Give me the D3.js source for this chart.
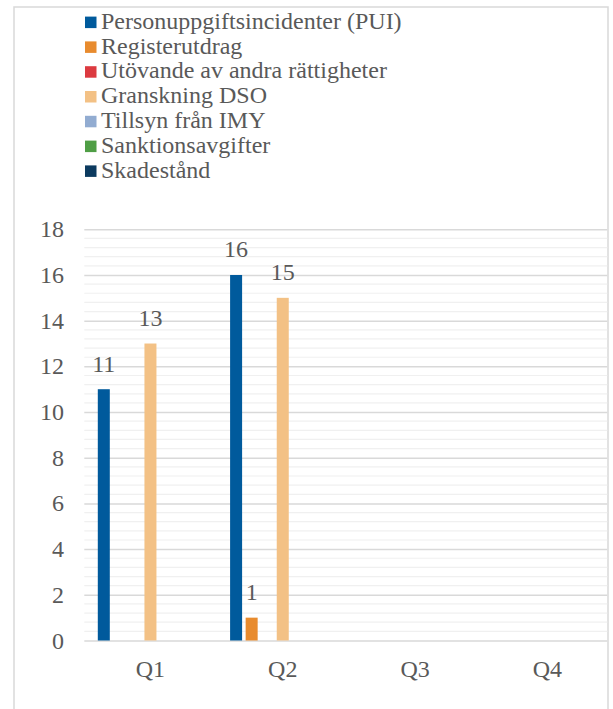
<!DOCTYPE html>
<html><head><meta charset="utf-8">
<script src="https://cdn.jsdelivr.net/npm/d3@7"></script>
<style>
html,body{margin:0;padding:0;background:#fff;}
</style></head>
<body>
<svg id="chart" width="613" height="709"></svg>
<script>
const categories = ["Q1", "Q2", "Q3", "Q4"];
const seriesNames = [
  "Personuppgiftsincidenter (PUI)",
  "Registerutdrag",
  "Utövande av andra rättigheter",
  "Granskning DSO",
  "Tillsyn från IMY",
  "Sanktionsavgifter",
  "Skadestånd"
];
const seriesColors = ["#005a9c", "#e88b2e", "#dc3a40", "#f3c185", "#92acd1", "#4f9e45", "#0c3a5f"];
const valuesPUI = [11, 16, 0, 0];
const valuesRegister = [0, 1, 0, 0];
const valuesUtovande = [0, 0, 0, 0];
const valuesGranskning = [13, 15, 0, 0];
const valuesTillsyn = [0, 0, 0, 0];
const valuesSanktion = [0, 0, 0, 0];
const valuesSkadestand = [0, 0, 0, 0];
const yTicks = [0, 2, 4, 6, 8, 10, 12, 14, 16, 18];

const seriesValues = [valuesPUI, valuesRegister, valuesUtovande, valuesGranskning, valuesTillsyn, valuesSanktion, valuesSkadestand];
const series = seriesNames.map((n, i) => ({name: n, color: seriesColors[i], values: seriesValues[i]}));

const FONT = "Liberation Serif";
const svg = d3.select("#chart");
const textColor = "#595959";
const fontSize = 24;

// Border
svg.append("rect").attr("x", 14).attr("y", 7).attr("width", 594).attr("height", 740)
  .attr("fill", "#fff").attr("stroke", "#d9d9d9").attr("stroke-width", 1.5);

svg.append("clipPath").attr("id", "clip").append("rect")
  .attr("x", 14).attr("y", 7).attr("width", 593.3).attr("height", 740);

const plotLeft = 84.3, step = 132.3;
const x = d3.scaleBand().domain(categories).range([plotLeft, plotLeft + step * categories.length]).padding(0);
const xs = d3.scaleBand().domain(seriesNames).range([0, x.bandwidth()]).paddingInner(0.228).paddingOuter(0.868);
const y = d3.scaleLinear().domain([0, 18]).range([640.5, 229.3]);

const plot = svg.append("g").attr("clip-path", "url(#clip)");

// minor gridlines
const minorTicks = d3.range(0, 18.0001, 0.4).filter(v => Math.abs(v / 2 - Math.round(v / 2)) > 1e-6);
plot.append("g").selectAll("line").data(minorTicks).join("line")
  .attr("x1", plotLeft).attr("x2", plotLeft + step * 4)
  .attr("y1", d => y(d)).attr("y2", d => y(d))
  .attr("stroke", "#f0f0f0").attr("stroke-width", 1.2);

// major gridlines via axis
const yAxis = d3.axisLeft(y).tickValues(yTicks).tickSize(-(step * 4)).tickFormat("");
const yg = plot.append("g").attr("transform", `translate(${plotLeft},0)`).call(yAxis);
yg.select(".domain").remove();
yg.selectAll(".tick line").attr("stroke", "#d9d9d9").attr("stroke-width", 1.5);

function styleText(sel) {
  return sel.style("font-family", FONT).attr("font-size", fontSize).attr("fill", textColor);
}

// y tick labels
styleText(svg.append("g").selectAll("text").data(yTicks).join("text")
  .attr("x", 64).attr("y", d => y(d) + 8)
  .attr("text-anchor", "end"))
  .text(d => d);

// bars
const groups = plot.selectAll("g.cat").data(categories).join("g").attr("class", "cat")
  .attr("transform", d => `translate(${x(d)},0)`);
groups.each(function(cat, ci) {
  const g = d3.select(this);
  const items = series.map(s => ({name: s.name, color: s.color, v: s.values[ci]})).filter(d => d.v > 0);
  g.selectAll("rect").data(items).join("rect")
    .attr("x", d => xs(d.name)).attr("width", xs.bandwidth())
    .attr("y", d => y(d.v)).attr("height", d => y(0) - y(d.v))
    .attr("fill", d => d.color);
  styleText(g.selectAll("text").data(items).join("text")
    .attr("x", d => xs(d.name) + xs.bandwidth() / 2)
    .attr("y", d => y(d.v) - 17.5)
    .attr("text-anchor", "middle"))
    .text(d => d.v);
});

// category labels
styleText(svg.append("g").selectAll("text").data(categories).join("text")
  .attr("x", d => x(d) + x.bandwidth() / 2).attr("y", 677)
  .attr("text-anchor", "middle"))
  .text(d => d);

// legend
const legend = svg.append("g");
const lg = legend.selectAll("g").data(series).join("g")
  .attr("transform", (d, i) => `translate(85,${22.3 + i * 24.8})`);
lg.append("rect").attr("x", 0).attr("y", -5.7).attr("width", 11.5).attr("height", 11.5).attr("fill", d => d.color);
styleText(lg.append("text").attr("x", 16).attr("y", 6.4)).text(d => d.name);
</script>
</body></html>
